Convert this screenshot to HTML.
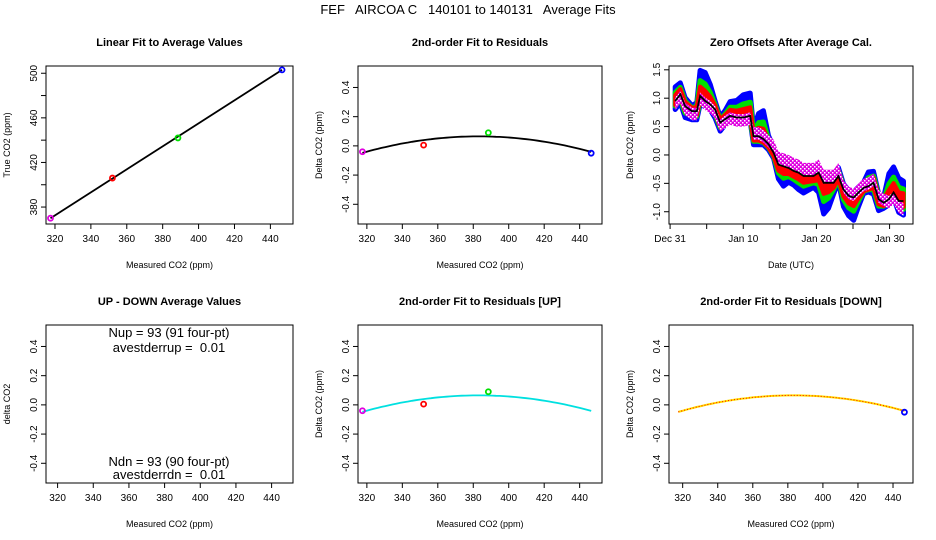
<!DOCTYPE html>
<html><head><meta charset="utf-8"><style>
html,body{margin:0;padding:0;background:#fff}
svg{display:block}
text{font-family:"Liberation Sans",sans-serif;fill:#000;white-space:pre}
.pt{font-size:11px;font-weight:bold}
.ax{font-size:9px}
.tk{font-size:10px}
</style></head><body>
<svg id="c" width="936" height="540" viewBox="0 0 936 540" xmlns="http://www.w3.org/2000/svg">
<defs>
<pattern id="hatch" width="4" height="4" patternUnits="userSpaceOnUse">
<rect width="4" height="4" fill="#e000e0"/><rect x="0" y="0" width="1.5" height="1.5" fill="#fff"/><rect x="2" y="2" width="1.5" height="1.5" fill="#fff"/>
</pattern>
</defs>
<text x="468" y="14" text-anchor="middle" font-size="13" xml:space="preserve">FEF   AIRCOA C   140101 to 140131   Average Fits</text>
</svg>
<script>
// ---- data ----
const calNames = ["magenta","red","green","blue"];
const calColors = ["#e000e0","#ff0000","#00e000","#0000ff"];
const measured = [317.5, 352, 388.5, 446.5];
const trueVals = [370, 406, 442, 503];
const residuals = [-0.04, 0.005, 0.09, -0.05];
const fitCoef = [-0.0000264, 383, 0.065]; // a*(x-b)^2 + c
const upIdx = [0,1,2];
const dnIdx = [3];
const days = [0.7,1.4,2.05,3.0,3.65,4.1,4.8,5.5,6.15,6.85,7.5,8.2,9.1,10.0,10.95,11.4,12.1,12.75,13.45,14.15,14.8,15.5,16.2,16.9,17.55,18.25,18.9,19.6,20.3,21.0,21.65,22.35,23.0,23.7,24.4,25.1,25.75,26.45,27.1,27.8,28.5,29.2,29.9,30.55,31.25,31.9];
const zeroOffset = [0.95,1.07,0.86,0.77,0.77,1.04,0.95,0.89,0.80,0.57,0.63,0.69,0.66,0.66,0.69,0.33,0.33,0.28,0.19,0.04,-0.17,-0.20,-0.23,-0.28,-0.31,-0.37,-0.37,-0.37,-0.31,-0.49,-0.49,-0.49,-0.37,-0.61,-0.72,-0.75,-0.66,-0.58,-0.55,-0.49,-0.78,-0.84,-0.78,-0.66,-0.81,-0.81];
const spreadUp = [.25,.2,.15,.1,.15,.45,.5,.35,.15,.1,.15,.25,.3,.4,.4,.15,.4,.5,.15,.1,.1,.1,.1,.1,.1,.1,.1,.1,.1,.1,.1,.1,.15,.1,.1,.1,.1,.1,.25,.2,.1,.1,.45,.45,.4,.35];
const spreadDn = [.15,.15,.2,.15,.15,.15,.1,.1,.15,.15,.1,.1,.1,.1,.1,.15,.15,.1,.1,.1,.25,.35,.25,.25,.3,.3,.25,.2,.35,.55,.45,.2,.1,.3,.35,.4,.25,.1,.1,.2,.2,.1,.1,.1,.2,.25];
const magOffset = [-.05,-.05,-.05,-.05,-.05,-.05,-.05,-.05,-.05,-.05,-.05,-.05,-.05,-.05,-.05,.05,.05,.05,.05,.12,.12,.12,.12,.12,.12,.12,.12,.12,.12,.12,.12,.12,.12,.05,.05,.05,.05,.05,.05,.05,.05,.05,-.05,-.1,-.1,-.15];
const co2Ticks = [320,340,360,380,400,420,440];
const trueTicks = [380,400,420,440,460,480,500];
const trueLabels = ["380","","420","","460","","500"];
const resTicks = [-0.4,-0.2,0,0.2,0.4];
const resLabels = ["-0.4","-0.2","0.0","0.2","0.4"];
const offTicks = [-1.0,-0.5,0,0.5,1.0,1.5];
const offLabels = ["-1.0","-0.5","0.0","0.5","1.0","1.5"];
const dateTicks = [0,5,10,15,20,25,30];
const dateLabels = ["Dec 31","","Jan 10","","Jan 20","","Jan 30"];

const NS="http://www.w3.org/2000/svg";
const svg=document.getElementById('c');
function mk(tag,attrs,parent){const e=document.createElementNS(NS,tag);for(const k in attrs)e.setAttribute(k,attrs[k]);(parent||svg).appendChild(e);return e;}
function lin(d0,d1,r0,r1){return v=>r0+(v-d0)*(r1-r0)/(d1-d0);}

function panel(name,box,xd,yd,title,xlab,ylab,xt,xl,yt,yl,ylabX){
  const g=mk('g',{});
  
  
  const X=lin(xd[0],xd[1],box[0],box[2]), Y=lin(yd[0],yd[1],box[3],box[1]);
  const r=mk('rect',{x:box[0],y:box[1],width:box[2]-box[0],height:box[3]-box[1],fill:'none',stroke:'#000','stroke-width':1},g);
  
  
  const t=mk('text',{x:(box[0]+box[2])/2,y:box[1]-20,'text-anchor':'middle',class:'pt'},g);t.textContent=title;
  
  
  const xa=mk('text',{x:(box[0]+box[2])/2,y:box[3]+44,'text-anchor':'middle',class:'ax'},g);xa.textContent=xlab;
  
  
  const ya=mk('text',{x:0,y:0,'text-anchor':'middle',class:'ax',transform:`translate(${box[0]-ylabX},${(box[1]+box[3])/2}) rotate(-90)`},g);ya.textContent=ylab;
  
  
  xt.forEach((v,i)=>{const x=X(v);mk('line',{x1:x,x2:x,y1:box[3],y2:box[3]+5,stroke:'#000'},g);
    if(xl[i]){const s=mk('text',{x:x,y:box[3]+18,'text-anchor':'middle',class:'tk'},g);s.textContent=xl[i];
    
    }});
  yt.forEach((v,i)=>{const y=Y(v);mk('line',{x1:box[0]-5,x2:box[0],y1:y,y2:y,stroke:'#000'},g);
    if(yl[i]){const s=mk('text',{x:0,y:0,'text-anchor':'middle',class:'tk',transform:`translate(${box[0]-9},${y}) rotate(-90)`},g);s.textContent=yl[i];
    
    }});
  return {g,X,Y};
}
function pt(p,x,y,ci){const c=mk('circle',{cx:p.X(x),cy:p.Y(y),r:2.5,fill:'none',stroke:calColors[ci],'stroke-width':1.8},p.g);
  
  }
function fitPath(p,x0,x1,color,w,dash){let d='';for(let i=0;i<=60;i++){const x=x0+(x1-x0)*i/60;const y=fitCoef[0]*(x-fitCoef[1])**2+fitCoef[2];d+=(i?'L':'M')+p.X(x).toFixed(1)+','+p.Y(y).toFixed(1);}
  const e=mk('path',{d:d,fill:'none',stroke:color,'stroke-width':w},p.g);if(dash)e.setAttribute('stroke-dasharray',dash);return e;}

const xdA=[315,452.6], xdC=[312.2,451.4], rd=[-0.535,0.547];
// Panel 1
const p1=panel('linear-fit-panel',[46,66,293,224],xdA,[364.8,506.5],'Linear Fit to Average Values','Measured CO2 (ppm)','True CO2 (ppm)',co2Ticks,co2Ticks.map(String),trueTicks,trueLabels,36);
const fl=mk('line',{x1:p1.X(measured[0]),y1:p1.Y(trueVals[0]),x2:p1.X(measured[3]),y2:p1.Y(trueVals[3]),stroke:'#000','stroke-width':1.8},p1.g);


measured.forEach((m,i)=>pt(p1,m,trueVals[i],i));
// Panel 2
const p2=panel('residual-fit-panel',[358,66,602,224],xdA,rd,'2nd-order Fit to Residuals','Measured CO2 (ppm)','Delta CO2 (ppm)',co2Ticks,co2Ticks.map(String),resTicks,resLabels,36);
const c2=fitPath(p2,317.5,446.5,'#000',1.8);


measured.forEach((m,i)=>pt(p2,m,residuals[i],i));
// Panel 3
const p3=panel('zero-offsets-panel',[669,66,913,224],[-0.15,33.2],[-1.216,1.567],'Zero Offsets After Average Cal.','Date (UTC)','Delta CO2 (ppm)',dateTicks,dateLabels,offTicks,offLabels,36);
function band(fu,fl,fill,name,sw){let up='',dn='';days.forEach((d,i)=>{up+=(i?'L':'M')+p3.X(d).toFixed(1)+','+p3.Y(fu(i)).toFixed(1);});
  for(let i=days.length-1;i>=0;i--)dn+='L'+p3.X(days[i]).toFixed(1)+','+p3.Y(fl(i)).toFixed(1);
  const e=mk('path',{d:up+dn+'Z',fill:fill,stroke:fill==='url(#hatch)'?'none':fill,'stroke-width':sw,'stroke-linejoin':'round'},p3.g);
  
  }
band(i=>zeroOffset[i]+spreadUp[i],i=>zeroOffset[i]-spreadDn[i],'#0000ff','offset-band-blue',5);
band(i=>zeroOffset[i]+spreadUp[i]*0.6,i=>zeroOffset[i]-spreadDn[i]*0.6,'#00e000','offset-band-green',5);
band(i=>zeroOffset[i]+spreadUp[i]*0.3+0.03,i=>zeroOffset[i]-spreadDn[i]*0.3-0.03,'#ff0000','offset-band-red',4);
band(i=>zeroOffset[i]+magOffset[i]+0.11,i=>zeroOffset[i]+magOffset[i]-0.11,'url(#hatch)','offset-band-magenta',0);
let dl='';days.forEach((d,i)=>{dl+=(i?'L':'M')+p3.X(d).toFixed(1)+','+p3.Y(zeroOffset[i]).toFixed(1);});
const bl=mk('path',{d:dl,fill:'none',stroke:'#000','stroke-width':1.8},p3.g);


svg.appendChild(mk('rect',{x:669,y:66,width:244,height:158,fill:'none',stroke:'#000'}));
// Panel 4
const p4=panel('up-down-panel',[46,325,293,483],[313.5,452],rd,'UP - DOWN Average Values','Measured CO2 (ppm)','delta CO2',co2Ticks,co2Ticks.map(String),resTicks,resLabels,36);
[['Nup = 93 (91 four-pt)',337],['avestderrup =  0.01',352],['Ndn = 93 (90 four-pt)',466],['avestderrdn =  0.01',479]].forEach(a=>{
  const s=mk('text',{x:169,y:a[1],'text-anchor':'middle','font-size':13},p4.g);s.textContent=a[0];
  
  });
// Panel 5
const p5=panel('residual-up-panel',[358,325,602,483],xdA,rd,'2nd-order Fit to Residuals [UP]','Measured CO2 (ppm)','Delta CO2 (ppm)',co2Ticks,co2Ticks.map(String),resTicks,resLabels,36);
const c5=fitPath(p5,317.5,446.5,'#00e0e0',1.8);


upIdx.forEach(i=>pt(p5,measured[i],residuals[i],i));
// Panel 6
const p6=panel('residual-down-panel',[669,325,913,483],xdC,rd,'2nd-order Fit to Residuals [DOWN]','Measured CO2 (ppm)','Delta CO2 (ppm)',co2Ticks,co2Ticks.map(String),resTicks,resLabels,36);
const c6a=fitPath(p6,317.5,446.5,'#ffe000',2);


const c6b=fitPath(p6,317.5,446.5,'#ff0000',1,'1,2');


dnIdx.forEach(i=>pt(p6,measured[i],residuals[i],i));
</script>
</body></html>
